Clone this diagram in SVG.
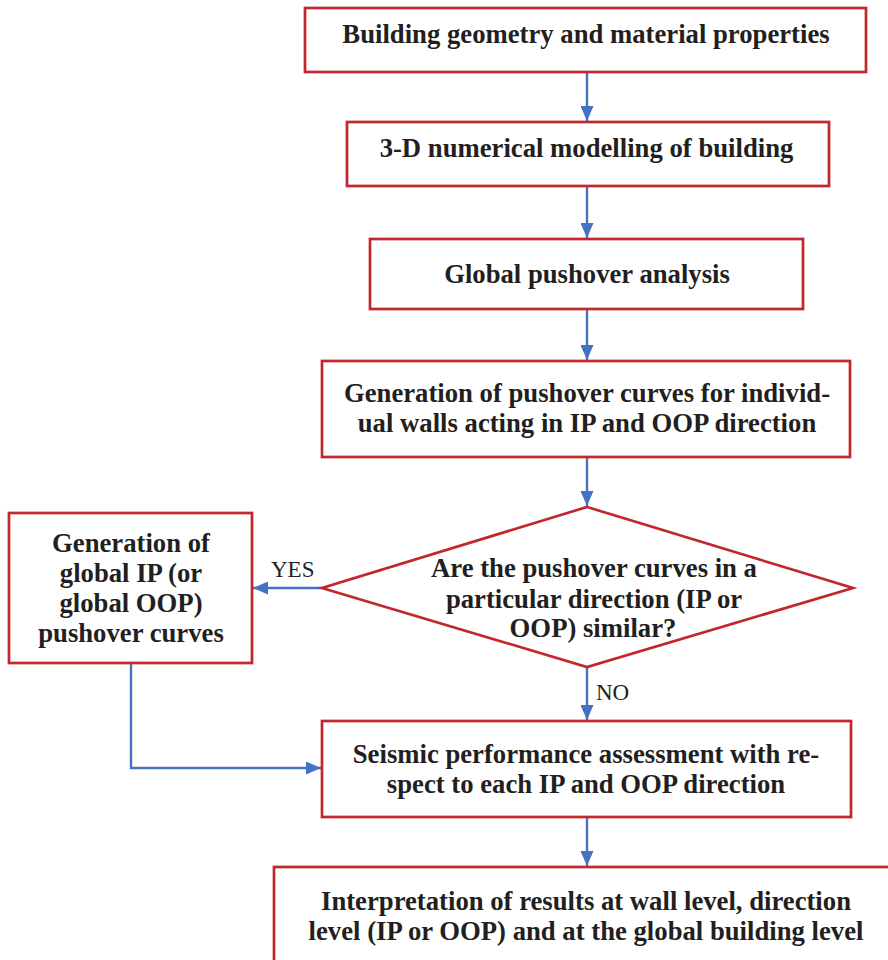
<svg xmlns="http://www.w3.org/2000/svg" width="888" height="960" viewBox="0 0 888 960">
<style>
.box{fill:#fff;stroke:#C1272D;stroke-width:2.7}
.lbl{font-family:'Liberation Serif',serif;font-weight:bold;font-size:26.7px;fill:#231F20;text-anchor:middle}
.yn{font-family:'Liberation Serif',serif;font-size:23px;fill:#231F20}
.c{fill:none;stroke:#4472C4;stroke-width:2.4}
</style>
<defs>
<marker id="ah" markerWidth="15" markerHeight="13" refX="15" refY="6.5" orient="auto" markerUnits="userSpaceOnUse">
<path d="M0,0 L15,6.5 L0,13 Z" fill="#4472C4"/>
</marker>
</defs>
<rect width="888" height="960" fill="#fff"/>
<g id="connectors">
<line class="c" x1="587" y1="72" x2="587" y2="121" marker-end="url(#ah)"/>
<line class="c" x1="587" y1="186" x2="587" y2="238" marker-end="url(#ah)"/>
<line class="c" x1="587" y1="309" x2="587" y2="360" marker-end="url(#ah)"/>
<line class="c" x1="587" y1="457" x2="587" y2="506" marker-end="url(#ah)"/>
<line class="c" x1="322" y1="588" x2="253" y2="588" marker-end="url(#ah)"/>
<line class="c" x1="587" y1="667" x2="587" y2="720" marker-end="url(#ah)"/>
<polyline class="c" points="131,663 131,768 321,768" marker-end="url(#ah)"/>
<line class="c" x1="587" y1="817" x2="587" y2="866" marker-end="url(#ah)"/>
<text class="yn" x="271" y="577">YES</text>
<text class="yn" x="596" y="700">NO</text>
</g>
<g id="n1">
<rect class="box" x="305" y="8" width="561" height="64"/>
<text class="lbl" x="586" y="43">Building geometry and material properties</text>
</g>
<g id="n2">
<rect class="box" x="347" y="122" width="482" height="64"/>
<text class="lbl" x="586.5" y="157">3-D numerical modelling of building</text>
</g>
<g id="n3">
<rect class="box" x="370" y="239" width="433" height="70"/>
<text class="lbl" x="587" y="283">Global pushover analysis</text>
</g>
<g id="n4">
<rect class="box" x="322" y="361" width="528" height="96"/>
<text class="lbl" x="587" y="402">Generation of pushover curves for individ-</text>
<text class="lbl" x="587" y="432">ual walls acting in IP and OOP direction</text>
</g>
<g id="n5">
<polygon class="box" points="587,507 853,588 587,667 322,588"/>
<text class="lbl" x="594" y="577">Are the pushover curves in a</text>
<text class="lbl" x="594" y="608">particular direction (IP or</text>
<text class="lbl" x="593" y="637">OOP) similar?</text>
</g>
<g id="n6">
<rect class="box" x="9" y="513" width="243" height="150"/>
<text class="lbl" x="131" y="552">Generation of</text>
<text class="lbl" x="131" y="582">global IP (or</text>
<text class="lbl" x="131" y="612">global OOP)</text>
<text class="lbl" x="131" y="642">pushover curves</text>
</g>
<g id="n7">
<rect class="box" x="322" y="721" width="529" height="96"/>
<text class="lbl" x="586" y="763">Seismic performance assessment with re-</text>
<text class="lbl" x="586" y="793">spect to each IP and OOP direction</text>
</g>
<g id="n8">
<rect class="box" x="274" y="867" width="630" height="110"/>
<text class="lbl" x="586" y="910">Interpretation of results at wall level, direction</text>
<text class="lbl" x="586" y="940">level (IP or OOP) and at the global building level</text>
</g>
</svg>
